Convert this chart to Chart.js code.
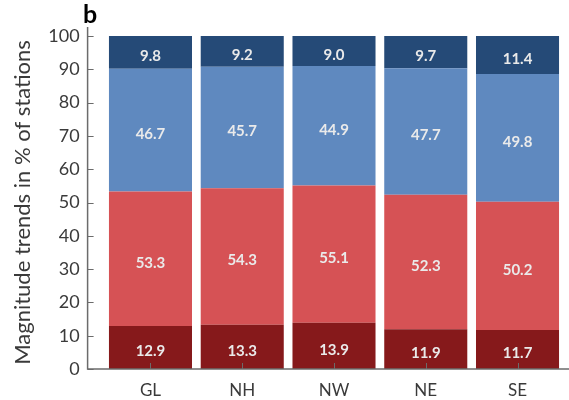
<!DOCTYPE html>
<html>
<head>
<meta charset="utf-8">
<script src="https://cdn.jsdelivr.net/npm/chart.js@4.4.1/dist/chart.umd.min.js"></script>
<style>
  html, body { margin: 0; padding: 0; background: #ffffff; overflow: hidden; }
  canvas { display: block; }
</style>
</head>
<body>
<canvas id="chart" width="569" height="400"></canvas>
<script>
// Regions
const categories = ['GL', 'NH', 'NW', 'NE', 'SE'];
// Share of stations (%) with decreasing trends, and the significant part of them
const decreasing = [53.3, 54.3, 55.1, 52.3, 50.2];
const sigDecreasing = [12.9, 13.3, 13.9, 11.9, 11.7];
// Share of stations (%) with increasing trends, and the significant part of them
const increasing = [46.7, 45.7, 44.9, 47.7, 49.8];
const sigIncreasing = [9.8, 9.2, 9.0, 9.7, 11.4];
const yTicks = [0, 10, 20, 30, 40, 50, 60, 70, 80, 90, 100];

const FONT = 'Lato, "Open Sans", sans-serif';
const AXIS_COLOR = '#6b6b6b';
const TEXT_COLOR = '#3a3a3a';

// Each segment is a floating bar [start, end]; the label value is shown inside it
const segDarkRed = sigDecreasing.map(v => [0, v]);
const segRed = decreasing.map((v, i) => [sigDecreasing[i], v]);
const segBlue = increasing.map((v, i) => [decreasing[i], 100 - sigIncreasing[i]]);
const segDarkBlue = sigIncreasing.map(v => [100 - v, 100]);

const segLabels = [sigDecreasing, decreasing, increasing, sigIncreasing];

const axisAndLabels = {
  id: 'axisAndLabels',
  afterDatasetsDraw(chart) {
    const ctx = chart.ctx;
    const x = chart.scales.x, y = chart.scales.y;
    const area = chart.chartArea;
    const axisX = area.left - 17;
    const y0 = y.getPixelForValue(0);

    // value labels centred in each segment
    ctx.save();
    ctx.font = 'bold 15px ' + FONT;
    ctx.fillStyle = '#eaeaea';
    ctx.textAlign = 'center';
    ctx.textBaseline = 'middle';
    chart.data.datasets.forEach((ds, di) => {
      ds.data.forEach((seg, i) => {
        const cx = x.getPixelForValue(i);
        const cy = (y.getPixelForValue(seg[0]) + y.getPixelForValue(seg[1])) / 2 + 4;
        ctx.fillText(segLabels[di][i].toFixed(1), cx, cy);
      });
    });
    ctx.restore();

    // axis lines and inward tick marks
    ctx.save();
    ctx.strokeStyle = AXIS_COLOR;
    ctx.lineWidth = 1.5;
    ctx.beginPath();
    ctx.moveTo(axisX, area.top - 9);
    ctx.lineTo(axisX, y0);
    ctx.lineTo(chart.width, y0);
    ctx.stroke();
    ctx.lineWidth = 1;
    ctx.beginPath();
    yTicks.forEach(t => {
      const py = Math.round(y.getPixelForValue(t)) + 0.5;
      ctx.moveTo(axisX, py);
      ctx.lineTo(axisX + 6, py);
    });
    categories.forEach((c, i) => {
      const px = Math.round(x.getPixelForValue(i)) + 0.5;
      ctx.moveTo(px, y0);
      ctx.lineTo(px, y0 - 6);
    });
    ctx.stroke();

    // panel letter
    ctx.font = 'bold 25px ' + FONT;
    ctx.fillStyle = '#000000';
    ctx.textAlign = 'center';
    ctx.textBaseline = 'alphabetic';
    ctx.fillText('b', 90, 23);
    ctx.restore();
  }
};

new Chart(document.getElementById('chart'), {
  type: 'bar',
  data: {
    labels: categories,
    datasets: [
      { label: 'Significant decreasing', data: segDarkRed, backgroundColor: '#86191b' },
      { label: 'Decreasing', data: segRed, backgroundColor: '#d65255' },
      { label: 'Increasing', data: segBlue, backgroundColor: '#5f89bf' },
      { label: 'Significant increasing', data: segDarkBlue, backgroundColor: '#254a77' }
    ]
  },
  options: {
    responsive: false,
    animation: false,
    devicePixelRatio: 1,
    layout: { padding: { top: 36, right: 5.6, left: 0, bottom: 0 } },
    datasets: {
      bar: { categoryPercentage: 1, barPercentage: 0.905, borderWidth: 0 }
    },
    plugins: { legend: { display: false }, tooltip: { enabled: false }, title: { display: false } },
    scales: {
      x: {
        stacked: true,
        afterFit(scale) { scale.height = 31; },
        grid: { display: false, drawTicks: false },
        border: { display: false },
        ticks: { color: TEXT_COLOR, font: { family: FONT, size: 17 }, padding: 11 }
      },
      y: {
        stacked: false,
        min: 0,
        max: 100,
        afterFit(scale) { scale.width = 104.6; },
        afterBuildTicks(scale) { scale.ticks = yTicks.map(v => ({ value: v })); },
        // hidden tick marks only reserve the gap between labels and plot
        grid: { display: false, drawTicks: true, tickLength: 25 },
        border: { display: false },
        ticks: { color: TEXT_COLOR, font: { family: FONT, size: 18 }, padding: 0 },
        title: {
          display: true,
          text: 'Magnitude trends in % of stations',
          color: TEXT_COLOR,
          font: { family: FONT, size: 22 },
          padding: { top: 10, bottom: 0 }
        }
      }
    }
  },
  plugins: [axisAndLabels]
});
</script>
</body>
</html>
